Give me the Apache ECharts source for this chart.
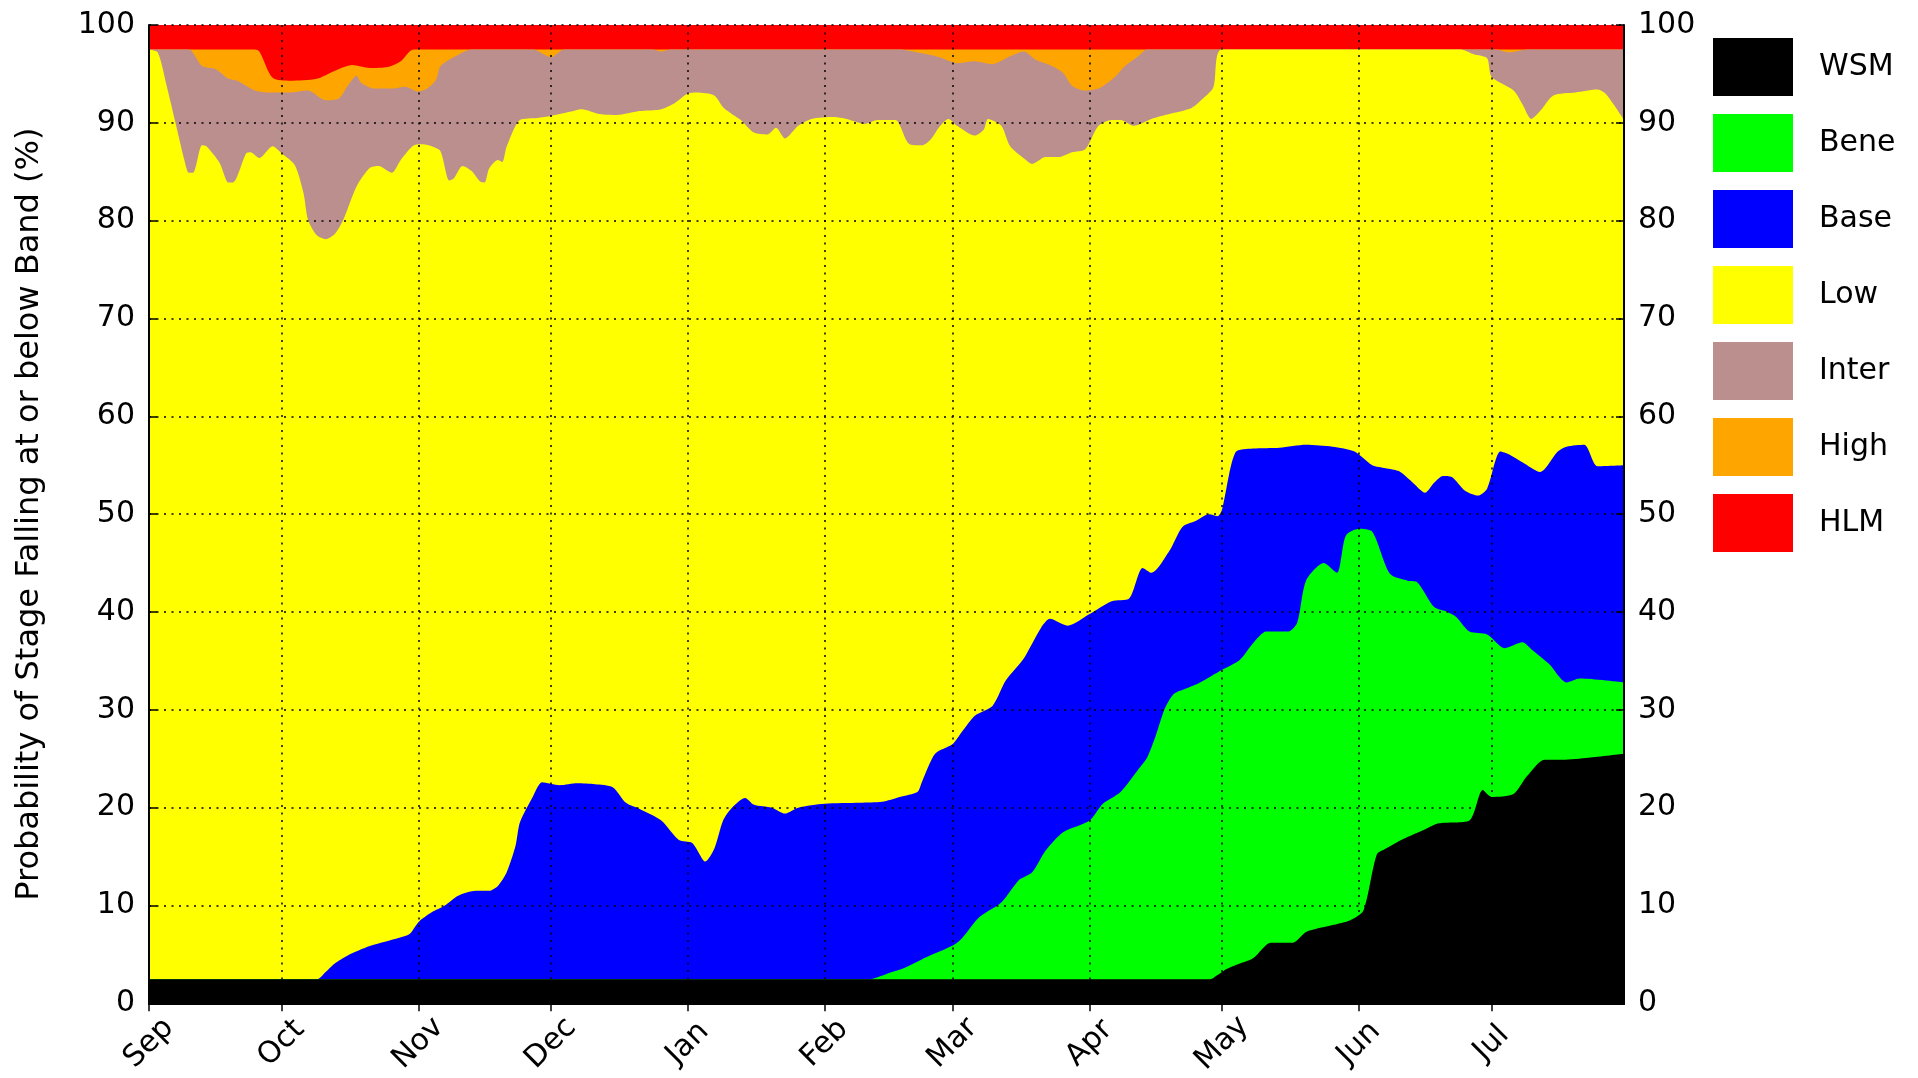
<!DOCTYPE html>
<html>
<head>
<meta charset="utf-8">
<script src="https://cdn.jsdelivr.net/npm/echarts@6/dist/echarts.min.js"></script>
<style>
html,body{margin:0;padding:0;background:#fff;}
#chart{width:1918px;height:1078px;}
</style>
</head>
<body>
<div id="chart"></div>
<script>
// Month names and lengths (Sep .. Jul, leap-year February)
const monthNames = ['Sep','Oct','Nov','Dec','Jan','Feb','Mar','Apr','May','Jun','Jul'];
const monthDays  = [30, 31, 30, 31, 31, 29, 31, 30, 31, 30, 31];
const yTicks = [0,10,20,30,40,50,60,70,80,90,100];

// Upper boundary of each band, as [day index from Sep 1, cumulative %]
const hlmTop = [[0,100],[334,100]];
const highTop = [[0,97.5],[24,97.5],[25,97.3],[28,94.6],[32,94.3],[38,94.5],[42,95.3],[46,95.9],[50,95.6],[54,95.7],[57,96.3],[59,97.3],[60,97.5],[334,97.5]];
const interTop = [[0,97.5],[9,97.5],[12,95.8],[15,95.5],[18,94.5],[20,94.3],[24,93.3],[27,93.1],[32,93.1],[36,93.3],[40,92.3],[43,92.5],[45,93.8],[47,94.8],[48,94.1],[51,93.5],[55,93.5],[58,93.7],[61,93.2],[63,93.5],[65,94.4],[66,95.8],[69,96.7],[73,97.5],[87,97.5],[91,96.7],[94,97.5],[114,97.5],[116,97.3],[118,97.5],[170,97.5],[175,97.1],[179,96.7],[183,96.1],[187,96.3],[191,96.0],[195,96.8],[198,97.3],[201,96.4],[204,95.9],[207,95.1],[209,93.8],[212,93.3],[215,93.5],[218,94.4],[219,94.8],[221,95.8],[224,96.8],[226,97.5],[305,97.5],[308,97.2],[312,97.5],[334,97.5]];
const lowTop = [[0,97.5],[2,97.2],[4,93.8],[6,90.0],[8,86.2],[9,84.9],[10,84.9],[12,87.7],[13,87.6],[16,85.9],[18,83.9],[19,83.9],[22,86.9],[23,87.0],[25,86.4],[28,87.6],[30,86.9],[33,85.7],[35,82.8],[36,80.1],[38,78.5],[40,78.1],[42,78.6],[44,80.1],[47,83.5],[50,85.4],[52,85.6],[55,84.9],[57,86.2],[60,87.7],[62,87.8],[64,87.6],[66,87.1],[68,84.1],[69,84.3],[71,85.6],[73,85.1],[75,84.0],[76,83.9],[77,85.3],[79,86.2],[80,86.0],[81,87.6],[84,90.3],[88,90.5],[91,90.7],[95,91.1],[98,91.4],[102,90.9],[106,90.8],[111,91.2],[116,91.4],[119,92.0],[122,93.0],[124,93.1],[128,92.8],[130,91.6],[133,90.6],[134,90.3],[137,89.0],[140,88.8],[142,89.5],[144,88.4],[147,89.7],[150,90.4],[155,90.6],[158,90.4],[162,89.9],[165,90.3],[169,90.3],[172,87.9],[175,87.7],[177,88.3],[179,89.6],[181,90.4],[183,89.7],[187,88.7],[189,89.3],[190,90.4],[193,89.7],[195,87.6],[198,86.4],[200,85.8],[203,86.5],[206,86.5],[209,87.0],[212,87.3],[215,89.7],[218,90.3],[220,90.3],[223,89.7],[227,90.4],[231,90.9],[236,91.5],[238,92.2],[241,93.6],[243,97.5],[297,97.5],[300,97.0],[303,96.6],[304,94.7],[309,93.3],[311,91.9],[313,90.4],[315,91.2],[318,92.8],[323,93.1],[328,93.4],[330,92.9],[334,90.3]];
const baseTop = [[0,2.45],[38,2.45],[40,3.2],[42,4.05],[45,4.9],[50,5.85],[55,6.5],[59,7.1],[61,8.3],[64,9.3],[67,10.0],[70,11.0],[74,11.5],[77,11.5],[79,12.0],[81,13.4],[83,16.1],[84,18.5],[87,21.2],[89,22.6],[93,22.3],[97,22.5],[101,22.4],[105,22.1],[108,20.5],[111,19.9],[116,18.7],[120,16.7],[123,16.4],[126,14.5],[128,15.8],[130,18.7],[132,20.0],[135,21.0],[137,20.3],[141,20.0],[144,19.4],[147,20.0],[153,20.4],[161,20.5],[166,20.6],[170,21.1],[174,21.6],[175,22.6],[178,25.5],[182,26.5],[184,27.7],[187,29.4],[191,30.4],[194,33.0],[198,35.2],[202,38.4],[204,39.3],[208,38.6],[213,39.8],[218,41.1],[222,41.4],[225,44.5],[227,44.0],[231,46.2],[234,48.7],[237,49.3],[240,50.0],[242,49.8],[243,50.5],[246,56.3],[250,56.7],[256,56.8],[262,57.1],[268,56.9],[273,56.4],[277,55.0],[280,54.7],[283,54.4],[286,53.3],[289,52.2],[291,53.2],[293,53.9],[295,53.8],[298,52.4],[301,51.9],[303,52.6],[306,56.4],[308,56.1],[311,55.3],[315,54.3],[319,56.4],[321,56.9],[325,57.1],[328,54.9],[334,55.0]];
const beneTop = [[0,2.45],[163,2.45],[167,3.0],[171,3.6],[176,4.7],[182,5.9],[184,6.6],[188,8.8],[193,10.3],[197,12.6],[200,13.4],[203,15.6],[207,17.5],[213,18.7],[216,20.4],[220,21.6],[224,23.9],[226,25.1],[228,27.4],[230,30.1],[232,31.6],[235,32.2],[238,32.8],[243,34.1],[247,35.1],[250,36.8],[253,38.0],[258,38.0],[260,38.9],[262,43.2],[266,45.0],[269,44.0],[271,47.8],[274,48.5],[277,48.2],[281,43.9],[285,43.2],[287,43.1],[291,40.5],[294,40.0],[296,39.5],[299,38.0],[303,37.7],[307,36.3],[311,36.9],[313,36.2],[317,34.7],[321,32.8],[324,33.2],[334,32.8]];
const wsmTop = [[0,2.45],[240,2.45],[241,2.6],[244,3.5],[246,3.9],[250,4.6],[254,6.2],[259,6.2],[262,7.3],[268,8.0],[272,8.5],[275,9.5],[278,15.2],[280,15.8],[284,16.8],[289,17.8],[292,18.4],[299,18.7],[302,21.8],[304,21.1],[309,21.4],[312,23.2],[316,24.9],[320,24.9],[326,25.1],[334,25.5]];

const seriesNames  = ['WSM','Bene','Base','Low','Inter','High','HLM'];
const seriesColors = ['#000000','#00ff00','#0000ff','#ffff00','#bc8f8f','#ffa500','#ff0000'];
const seriesData   = [wsmTop, beneTop, baseTop, lowTop, interTop, highTop, hlmTop];

// daily categories
const categories = [];
monthNames.forEach((m, i) => {
  for (let d = 1; d <= monthDays[i]; d++) categories.push(m + '-' + (d < 10 ? '0' + d : d));
});
const isMonthStart = (idx, val) => String(val).endsWith('-01');

const FONT = 'DejaVu Sans';
const chart = echarts.init(document.getElementById('chart'), null, {renderer: 'canvas'});

const series = [];
for (let i = seriesNames.length - 1; i >= 0; i--) {
  series.push({
    name: seriesNames[i],
    type: 'line',
    data: seriesData[i],
    symbol: 'none',
    smooth: 0.25,
    color: seriesColors[i],
    lineStyle: {width: 0, color: seriesColors[i]},
    itemStyle: {color: seriesColors[i]},
    areaStyle: {color: seriesColors[i], opacity: 1, origin: 'start'},
    emphasis: {disabled: true},
    silent: true,
    z: 2
  });
}

const gridLine = {show: true, lineStyle: {color: '#000', width: 1.5, type: [2, 5.5]}};

chart.setOption({
  animation: false,
  backgroundColor: '#fff',
  textStyle: {fontFamily: FONT},
  grid: {left: 149, right: 294, top: 25, bottom: 72, containLabel: false},
  legend: {
    orient: 'vertical',
    left: 1708,
    top: 33,
    itemWidth: 80,
    itemHeight: 58,
    itemGap: 18,
    icon: 'rect',
    data: seriesNames,
    textStyle: {fontFamily: FONT, fontSize: 30, color: '#000', padding: [0, 0, 0, 21]},
    selectedMode: false
  },
  xAxis: [{
    type: 'category',
    data: categories,
    boundaryGap: false,
    z: 5,
    axisLine: {show: true, lineStyle: {color: '#000', width: 2}},
    axisTick: {show: true, inside: true, length: 8, interval: isMonthStart, lineStyle: {color: '#000', width: 1.5}},
    axisLabel: {
      show: true, interval: isMonthStart, rotate: 45, margin: 40,
      align: 'center', verticalAlign: 'middle',
      fontFamily: FONT, fontSize: 30, color: '#000',
      formatter: v => v.split('-')[0]
    },
    splitLine: Object.assign({interval: isMonthStart}, gridLine)
  }, {
    type: 'category',
    data: categories,
    boundaryGap: false,
    position: 'top',
    z: 5,
    axisLine: {show: true, lineStyle: {color: '#000', width: 2}},
    axisTick: {show: true, inside: true, length: 8, interval: isMonthStart, lineStyle: {color: '#000', width: 1.5}},
    axisLabel: {show: false},
    splitLine: {show: false}
  }],
  yAxis: [{
    type: 'value', min: 0, max: 100, interval: 10, position: 'left', z: 5,
    name: 'Probability of Stage Falling at or below Band (%)',
    nameLocation: 'middle', nameGap: 103,
    nameTextStyle: {fontFamily: FONT, fontSize: 32, color: '#000'},
    axisLine: {show: true, lineStyle: {color: '#000', width: 2}},
    axisTick: {show: true, inside: true, length: 8, lineStyle: {color: '#000', width: 1.5}},
    axisLabel: {fontFamily: FONT, fontSize: 30, color: '#000', margin: 14, formatter: v => yTicks.includes(v) ? String(v) : ''},
    splitLine: gridLine
  }, {
    type: 'value', min: 0, max: 100, interval: 10, position: 'right', z: 5,
    axisLine: {show: true, lineStyle: {color: '#000', width: 2}},
    axisTick: {show: true, inside: true, length: 8, lineStyle: {color: '#000', width: 1.5}},
    axisLabel: {fontFamily: FONT, fontSize: 30, color: '#000', margin: 14, formatter: v => yTicks.includes(v) ? String(v) : ''},
    splitLine: {show: false}
  }],
  series: series
});
</script>
</body>
</html>
